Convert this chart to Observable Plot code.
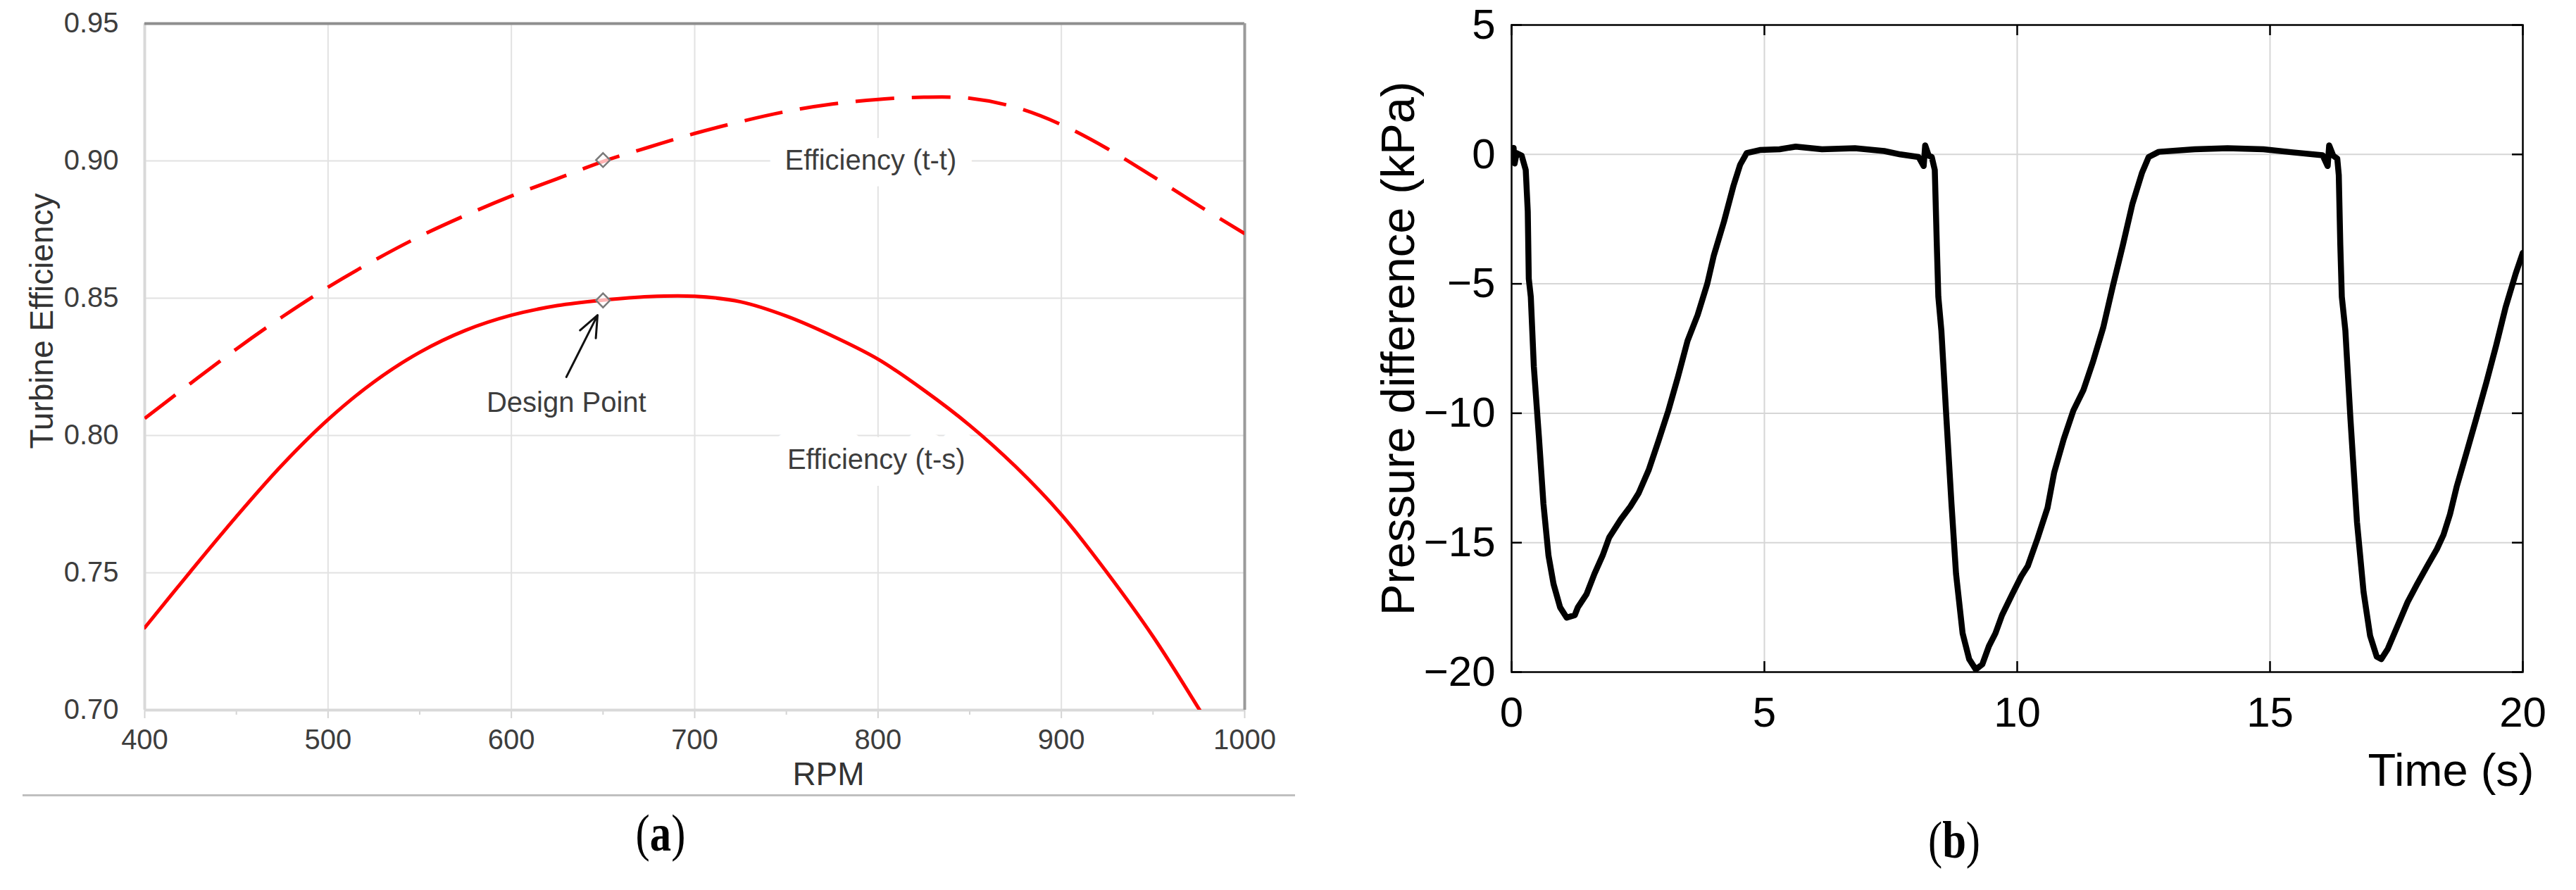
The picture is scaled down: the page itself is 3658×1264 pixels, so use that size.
<!DOCTYPE html>
<html>
<head>
<meta charset="utf-8">
<script src="https://cdn.jsdelivr.net/npm/d3@7"></script>
<script src="https://cdn.jsdelivr.net/npm/@observablehq/plot@0.6"></script>
<style>
html, body { margin: 0; padding: 0; background: #fff; }
#wrap { position: relative; width: 3658px; height: 1264px; overflow: hidden; background: #fff; }
#pa { position: absolute; left: 0; top: 0; }
#pb { position: absolute; left: 1830px; top: 0; }
.cap { position: absolute; font-family: "Liberation Serif", "Times New Roman", serif; font-size: 74px; line-height: 1; color: #000; transform: translateX(-50%) scaleX(0.82); white-space: nowrap; }
.cap b { font-weight: bold; }
</style>
</head>
<body>
<div id="wrap">
  <div id="pa"></div>
  <div id="pb"></div>
  <div style="position:absolute;left:32px;top:1128px;width:1807px;height:3px;background:#bfbfbf"></div>
  <div class="cap" style="left:938px;top:1146px">(<b>a</b>)</div>
  <div class="cap" style="left:2775px;top:1156px">(<b>b</b>)</div>
</div>
<script>
// ---------- Panel (a) data ----------
const rpm = [400, 425, 450, 475, 500, 525, 550, 575, 600, 625, 650, 675, 700, 725, 750, 775, 800, 825, 850, 875, 900, 925, 950, 975, 1000];
const effTT = [0.8062, 0.8190, 0.8315, 0.8432, 0.8540, 0.8637, 0.8725, 0.8802, 0.8872, 0.8935, 0.8998, 0.9050, 0.9100, 0.9143, 0.9180, 0.9207, 0.9224, 0.9232, 0.9228, 0.9195, 0.9132, 0.9045, 0.8943, 0.8837, 0.8735];
const rpmTS = [400, 425, 450, 475, 500, 525, 550, 575, 600, 625, 650, 675, 700, 725, 750, 775, 800, 825, 850, 875, 900, 925, 950, 975, 1000];
const effTS = [0.7300, 0.7505, 0.7705, 0.7893, 0.8058, 0.8195, 0.8303, 0.8383, 0.8438, 0.8473, 0.8493, 0.8506, 0.8507, 0.8487, 0.8435, 0.8363, 0.8278, 0.8165, 0.8037, 0.7887, 0.7712, 0.7500, 0.7268, 0.7005, 0.6730];
const rpmTicks = [400, 500, 600, 700, 800, 900, 1000];
const rpmMinor = [450, 550, 650, 750, 850, 950];
const effTicks = [0.70, 0.75, 0.80, 0.85, 0.90, 0.95];
const designRpm = [650, 650];
const designEff = [0.9003, 0.8492];
const noteText = ["Efficiency (t-t)", "Efficiency (t-s)", "Design Point"];
const noteRpm = [796, 799, 630];
const noteEff = [0.900, 0.791, 0.8118];
const arrowX1 = [630], arrowY1 = [0.8213], arrowX2 = [647], arrowY2 = [0.8438];

// ---------- Panel (b) data ----------
const timeS = [0.00, 0.04, 0.06, 0.10, 0.20, 0.28, 0.32, 0.34, 0.38, 0.44, 0.54, 0.63, 0.73, 0.83, 0.96, 1.09, 1.25, 1.31, 1.48, 1.64, 1.80, 1.93, 2.16, 2.35, 2.51, 2.71, 2.90, 3.10, 3.29, 3.48, 3.68, 3.87, 4.00, 4.20, 4.39, 4.52, 4.65, 4.91, 5.30, 5.62, 6.14, 6.79, 7.37, 7.69, 8.05, 8.15, 8.18, 8.25, 8.31, 8.37, 8.41, 8.44, 8.50, 8.60, 8.70, 8.79, 8.92, 9.05, 9.18, 9.31, 9.44, 9.57, 9.70, 9.90, 10.08, 10.21, 10.40, 10.60, 10.73, 10.92, 11.11, 11.31, 11.50, 11.70, 11.89, 12.09, 12.28, 12.47, 12.60, 12.80, 13.51, 14.16, 14.87, 15.45, 16.04, 16.14, 16.17, 16.25, 16.33, 16.36, 16.39, 16.42, 16.49, 16.59, 16.72, 16.85, 16.98, 17.11, 17.20, 17.33, 17.46, 17.59, 17.72, 17.91, 18.11, 18.30, 18.43, 18.56, 18.69, 18.89, 19.08, 19.28, 19.47, 19.66, 19.86, 20.00];
const pressure = [-0.1, 0.25, -0.35, 0.05, -0.05, -0.6, -2.2, -4.8, -5.5, -8.2, -10.9, -13.5, -15.5, -16.6, -17.5, -17.9, -17.8, -17.5, -17.0, -16.2, -15.5, -14.8, -14.1, -13.6, -13.1, -12.2, -11.1, -9.9, -8.6, -7.2, -6.2, -5.0, -3.9, -2.6, -1.2, -0.4, 0.05, 0.17, 0.2, 0.3, 0.2, 0.24, 0.13, 0.0, -0.1, -0.45, 0.35, -0.05, -0.1, -0.6, -3.5, -5.5, -6.8, -10.2, -13.5, -16.2, -18.5, -19.5, -19.9, -19.7, -19.0, -18.5, -17.8, -17.0, -16.3, -15.9, -14.85, -13.65, -12.3, -11.0, -9.9, -9.1, -8.0, -6.7, -5.1, -3.5, -1.9, -0.7, -0.1, 0.1, 0.2, 0.24, 0.2, 0.08, -0.03, -0.45, 0.35, -0.05, -0.16, -0.8, -3.5, -5.5, -6.8, -10.2, -14.2, -16.9, -18.6, -19.4, -19.5, -19.1, -18.5, -17.9, -17.3, -16.6, -15.9, -15.25, -14.7, -13.9, -12.85, -11.5, -10.2, -8.8, -7.4, -5.9, -4.6, -3.8];
const timeTicks = [0, 5, 10, 15, 20];
const pTicks = [5, 0, -5, -10, -15, -20];

const SANS = '"Liberation Sans", Arial, Helvetica, sans-serif';
const gridA = "#e2e2e2";
const textA = "#3d3d3d";

const idxTT = rpm.map((_, i) => i);
const idxTS = rpmTS.map((_, i) => i);
const idxB = timeS.map((_, i) => i);

const chartA = Plot.plot({
  width: 1830, height: 1160,
  marginLeft: 205, marginRight: 63, marginTop: 33, marginBottom: 152,
  style: { fontFamily: SANS, fontSize: "40px", color: textA, background: "transparent", overflow: "visible" },
  x: { domain: [400, 1000] },
  y: { domain: [0.70, 0.95] },
  marks: [
    Plot.ruleX(rpmTicks.slice(1, -1), { stroke: gridA, strokeWidth: 2 }),
    Plot.ruleY(effTicks.slice(1, -1), { stroke: gridA, strokeWidth: 2 }),
    Plot.axisX({ ticks: rpmTicks, tickSize: 12, tickPadding: 15, stroke: "#d4d4d4", strokeWidth: 2, fill: textA, fontSize: 40, fontFamily: SANS, tickFormat: d => String(d), label: null }),
    Plot.axisX({ ticks: rpmMinor, tickSize: 7, stroke: "#d4d4d4", strokeWidth: 2, tickFormat: () => "", label: null }),
    Plot.axisY({ ticks: effTicks, tickSize: 0, tickPadding: 37, fill: textA, fontSize: 40, fontFamily: SANS, tickFormat: d3.format(".2f"), label: null }),
    Plot.ruleX([400], { stroke: "#d9d9d9", strokeWidth: 4 }),
    Plot.ruleY([0.70], { stroke: "#d9d9d9", strokeWidth: 4 }),
    Plot.ruleY([0.95], { stroke: "#8e8e8e", strokeWidth: 4 }),
    Plot.ruleX([1000], { stroke: "#9a9a9a", strokeWidth: 4 }),
    // white boxes behind the labels
    Plot.text(noteText.slice(0, 2), { x: noteRpm.slice(0, 2), y: noteEff.slice(0, 2), text: d => d, fontSize: 40, fontFamily: SANS, fill: "white", stroke: "white", strokeWidth: 48, strokeLinejoin: "round", lineAnchor: "middle" }),
    Plot.text(noteText, { x: noteRpm, y: noteEff, text: d => d, fontSize: 40, fontFamily: SANS, fill: textA, lineAnchor: "middle" }),
    Plot.line(idxTS, { x: i => rpmTS[i], y: i => effTS[i], stroke: "#ff0000", strokeWidth: 5, curve: "catmull-rom", clip: true }),
    Plot.line(idxTT, { x: i => rpm[i], y: i => effTT[i], stroke: "#ff0000", strokeWidth: 5, strokeDasharray: "55,25", strokeLinecap: "butt", curve: "catmull-rom", clip: true }),
    Plot.dot(designRpm, { x: designRpm, y: designEff, symbol: "diamond2", r: 9, stroke: "#7a7a7a", strokeWidth: 2.5, fill: "white", fillOpacity: 0.7 }),
    Plot.arrow(arrowX1, { x1: arrowX1, y1: arrowY1, x2: arrowX2, y2: arrowY2, stroke: "#111", strokeWidth: 3, headLength: 20, headAngle: 45 }),
    Plot.text(["RPM"], { frameAnchor: "bottom", dx: 190, dy: 106, lineAnchor: "bottom", text: d => d, fontSize: 46, fontFamily: SANS, fill: "#333" }),
    Plot.text(["Turbine Efficiency"], { frameAnchor: "left", rotate: -90, dx: -131, dy: -65, lineAnchor: "bottom", textAnchor: "middle", text: d => d, fontSize: 46, fontFamily: SANS, fill: "#333" })
  ]
});
document.getElementById("pa").appendChild(chartA);

const innerWB = 1828 - 316 - 76;
const innerHB = 1160 - 35 - 206;
const chartB = Plot.plot({
  width: 1828, height: 1160,
  marginLeft: 316, marginRight: 76, marginTop: 35, marginBottom: 206,
  style: { fontFamily: SANS, fontSize: "60px", color: "#000", background: "transparent", overflow: "visible" },
  x: { domain: [0, 20] },
  y: { domain: [-20, 5] },
  marks: [
    Plot.ruleX(timeTicks.slice(1, -1), { stroke: "#d6d6d6", strokeWidth: 2 }),
    Plot.ruleY(pTicks.slice(1, -1), { stroke: "#d6d6d6", strokeWidth: 2 }),
    Plot.axisX({ ticks: timeTicks, tickSize: 0, tickPadding: 35, fontSize: 60, fontFamily: SANS, fill: "#000", label: null }),
    Plot.axisY({ ticks: pTicks, tickSize: 0, tickPadding: 23, fontSize: 60, fontFamily: SANS, fill: "#000", label: null }),
    Plot.ruleX(timeTicks, { insetTop: innerHB - 15, stroke: "#000", strokeWidth: 2.5 }),
    Plot.ruleX(timeTicks, { insetBottom: innerHB - 15, stroke: "#000", strokeWidth: 2.5 }),
    Plot.ruleY(pTicks, { insetRight: innerWB - 15, stroke: "#000", strokeWidth: 2.5 }),
    Plot.ruleY(pTicks, { insetLeft: innerWB - 15, stroke: "#000", strokeWidth: 2.5 }),
    Plot.line(idxB, { x: i => timeS[i], y: i => pressure[i], stroke: "#000", strokeWidth: 8.5, strokeLinejoin: "round", strokeLinecap: "round", clip: true }),
    Plot.frame({ stroke: "#000", strokeWidth: 2.5 }),
    Plot.text(["Pressure difference (kPa)"], { frameAnchor: "left", rotate: -90, dx: -139, dy: 0, lineAnchor: "bottom", textAnchor: "middle", text: d => d, fontSize: 67, fontFamily: SANS, fill: "#000" }),
    Plot.text(["Time (s)"], { frameAnchor: "bottom-right", dx: 16, dy: 161, lineAnchor: "bottom", textAnchor: "end", text: d => d, fontSize: 65, fontFamily: SANS, fill: "#000" })
  ]
});
document.getElementById("pb").appendChild(chartB);
</script>
</body>
</html>
